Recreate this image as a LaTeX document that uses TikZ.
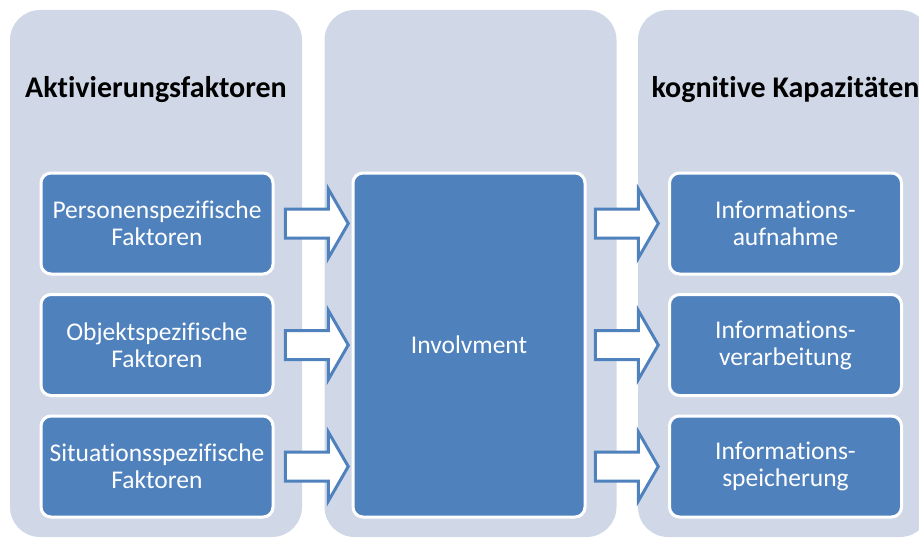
\documentclass[tikz,border=0pt]{standalone}
\usepackage{fontspec}
\setmainfont[Ligatures=NoCommon]{Carlito}
\usetikzlibrary{shapes.arrows}
\definecolor{colbg}{RGB}{208,216,232}
\definecolor{boxblue}{RGB}{79,129,189}
\begin{document}
\begin{tikzpicture}[x=1pt, y=-1pt,
  column/.style={fill=colbg, rounded corners=30pt, minimum width=292pt, minimum height=527pt, inner sep=0pt},
  box/.style={draw=white, line width=3pt, fill=boxblue, rounded corners=10pt, text=white, align=center, minimum width=232pt, minimum height=101pt, inner sep=0pt, font=\fontsize{25.5}{27}\selectfont},
  heading/.style={font=\fontsize{30}{32}\selectfont\bfseries, inner sep=0pt, anchor=base},
  blockarrow/.style={single arrow, draw=boxblue, line width=3pt, fill=white, minimum height=63pt, inner sep=13pt, single arrow head extend=20pt, single arrow tip angle=120, anchor=tip}]
\useasboundingbox (0,0) rectangle (919,543);
\node[column] (C1) at (156,273.5) {};
\node[column] (C2) at (470.5,273.5) {};
\node[column] (C3) at (784,273.5) {};
\node[heading] (H1) at (156,97) {Aktivierungsfaktoren};
\node[heading] (H3) at (785.5,97) {kognitive Kapazitäten};
\node[box] (C1N1) at (157,223.5) {Personenspezifische\\Faktoren};
\node[box] (C1N2) at (157,345) {Objektspezifische\\Faktoren};
\node[box] (C1N3) at (157,466.5) {Situationsspezifische\\Faktoren};
\node[box, minimum height=344pt] (C2N1) at (469,345) {Involvment};
\node[box] (C3N1) at (785.5,223.5) {Informations-\\aufnahme};
\node[box] (C3N2) at (785.5,345) {Informations-\\verarbeitung};
\node[box] (C3N3) at (785.5,466.5) {Informations-\\speicherung};
\node[blockarrow] (A1) at (350,223.5) {};
\node[blockarrow] (A2) at (350,345) {};
\node[blockarrow] (A3) at (350,466.5) {};
\node[blockarrow] (A4) at (660,223.5) {};
\node[blockarrow] (A5) at (660,345) {};
\node[blockarrow] (A6) at (660,466.5) {};
\end{tikzpicture}
\end{document}
